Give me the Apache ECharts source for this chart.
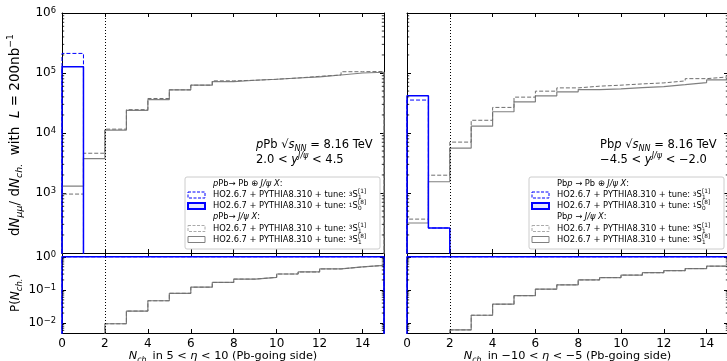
<!DOCTYPE html>
<html>
<head>
<meta charset="utf-8">
<script src="https://cdn.jsdelivr.net/npm/echarts@6/dist/echarts.min.js"></script>
<style>
html, body { margin: 0; padding: 0; background: #fff; }
#chart { width: 727px; height: 361px; }
</style>
</head>
<body>
<div id="chart"></div>
<script>
// ---- data -------------------------------------------------------------
// N_ch. bin edges (15 unit-wide bins)
const nchEdges = [0, 1, 2, 3, 4, 5, 6, 7, 8, 9, 10, 11, 12, 13, 14, 15];

// pPb, 5 < eta < 10 : dN_mumu / dN_ch. per bin
const pPbExcl_3S1_1 = [212000, 0, 0, 0, 0, 0, 0, 0, 0, 0, 0, 0, 0, 0, 0];
const pPbExcl_1S0_8 = [127000, 0, 0, 0, 0, 0, 0, 0, 0, 0, 0, 0, 0, 0, 0];
const pPbIncl_3S1_1 = [960, 4600, 11600, 24500, 37600, 52400, 62700, 74000, 75700, 78700, 82600, 88000, 92700, 105000, 106000];
const pPbIncl_3S1_8 = [1300, 3750, 11200, 23800, 36000, 52400, 62700, 72000, 75700, 78700, 82600, 86000, 92700, 100000, 103000];
// pPb : P(N_ch.)
const pPbProbExcl = [1, 1, 1, 1, 1, 1, 1, 1, 1, 1, 1, 1, 1, 1, 1];
const pPbProbIncl = [0, 0, 0.0095, 0.023, 0.047, 0.079, 0.121, 0.168, 0.212, 0.239, 0.302, 0.348, 0.43, 0.494, 0.55];

// Pbp, -10 < eta < -5 : dN_mumu / dN_ch. per bin
const PbpExcl_3S1_1 = [35400, 261, 0, 0, 0, 0, 0, 0, 0, 0, 0, 0, 0, 0, 0];
const PbpExcl_1S0_8 = [41700, 261, 0, 0, 0, 0, 0, 0, 0, 0, 0, 0, 0, 0, 0];
const PbpIncl_3S1_1 = [367, 1980, 7050, 16300, 26700, 39600, 49800, 56500, 60300, 62700, 65800, 68400, 73800, 80500, 86000];
const PbpIncl_3S1_8 = [316, 1540, 5600, 13000, 22600, 33100, 41700, 48500, 53000, 54400, 57200, 59400, 64100, 69200, 76600];
// Pbp : P(N_ch.)
const PbpProbExcl = [1, 1, 1, 1, 1, 1, 1, 1, 1, 1, 1, 1, 1, 1, 1];
const PbpProbIncl = [0, 0, 0.0062, 0.0172, 0.037, 0.067, 0.105, 0.142, 0.2, 0.235, 0.28, 0.33, 0.38, 0.44, 0.52];

// vertical guide at N_ch. = 2
const nchCut = 2;

// ---- styling ------------------------------------------------------------
const FONT = 'DejaVu Sans';
const BLUE = '#0000ff';
const GREY = '#808080';
const GREY_D = '#6e6e6e';
const EMPTY = 1e-6;   // empty bins fall below every axis floor and get clipped

const styles = {
  exclDash: { color: BLUE, width: 1, type: [4, 2] },
  exclSolid: { color: BLUE, width: 1.5, type: 'solid' },
  inclDash: { color: GREY_D, width: 1, type: [4, 2] },
  inclSolid: { color: GREY, width: 1.2, type: 'solid' }
};

function makeRich(size) {
  const s = +(size * 0.7).toFixed(1);
  return {
    i: { fontStyle: 'italic', fontFamily: FONT, fontSize: size, color: '#000', lineHeight: size + 4 },
    isub: { fontStyle: 'italic', fontFamily: FONT, fontSize: s, color: '#000', verticalAlign: 'bottom', lineHeight: s + 1 },
    sub: { fontFamily: FONT, fontSize: s, color: '#000', verticalAlign: 'bottom', lineHeight: s + 1 },
    sup: { fontFamily: FONT, fontSize: s, color: '#000', verticalAlign: 'top', lineHeight: s + 1 },
    isup: { fontStyle: 'italic', fontFamily: FONT, fontSize: s, color: '#000', verticalAlign: 'top', lineHeight: s + 1 }
  };
}
const RICH = makeRich(12);

// histogram outline: rises from the floor at the first edge, steps across each bin, drops at the last edge
function stepPoints(vals) {
  const floorOr = v => (v > 0 ? v : EMPTY);
  const pts = [[nchEdges[0], EMPTY]];
  vals.forEach((v, k) => pts.push([nchEdges[k], floorOr(v)]));
  pts.push([nchEdges[vals.length], floorOr(vals[vals.length - 1])]);
  pts.push([nchEdges[vals.length], EMPTY]);
  return pts;
}

function hist(name, vals, grid, style, z) {
  return {
    type: 'line', name, data: stepPoints(vals), step: 'end',
    xAxisIndex: grid * 2, yAxisIndex: grid * 2,
    symbol: 'none', clip: true, silent: true, z: z || 2,
    lineStyle: style
  };
}

function cutLine(grid) {
  return {
    type: 'line', data: [], xAxisIndex: grid * 2, yAxisIndex: grid * 2, silent: true, z: 1,
    markLine: {
      silent: true, symbol: 'none', label: { show: false },
      lineStyle: { color: '#000', width: 1, type: [1, 2] },
      data: [{ xAxis: nchCut }]
    }
  };
}

// minor ticks of a log axis (2..9 x 10^k), drawn inward on both vertical spines
function logMinorTicks(lo, hi) {
  const out = [];
  for (let e = Math.floor(Math.log10(lo)); e <= Math.ceil(Math.log10(hi)); e++) {
    for (let k = 2; k <= 9; k++) {
      const v = k * Math.pow(10, e);
      if (v > lo && v < hi) out.push([0, v]);
    }
  }
  return out;
}
function minorTickSeries(grid, lo, hi) {
  return {
    type: 'custom', xAxisIndex: grid * 2, yAxisIndex: grid * 2, silent: true, z: 30, clip: false,
    data: logMinorTicks(lo, hi),
    renderItem(params, api) {
      const a = api.coord([nchEdges[0], api.value(1)]);
      const b = api.coord([nchEdges[nchEdges.length - 1], api.value(1)]);
      const st = { stroke: '#000', lineWidth: 0.8 };
      return { type: 'group', children: [
        { type: 'line', shape: { x1: a[0], y1: a[1], x2: a[0] + 2.2, y2: a[1] }, style: st },
        { type: 'line', shape: { x1: b[0] - 2.2, y1: b[1], x2: b[0], y2: b[1] }, style: st }
      ] };
    }
  };
}

function logLabel(v) {
  const e = Math.round(Math.log10(v));
  return '10{sup|' + (e < 0 ? '\u2212' + (-e) : e) + '}';
}

const axisLine = { show: true, onZero: false, lineStyle: { color: '#000', width: 1 } };
const axisTick = { show: true, inside: true, length: 4, lineStyle: { color: '#000', width: 1 } };
const labelText = { color: '#000', fontSize: 12, fontFamily: FONT };
const XT = 11.3;

function xAxes(grid, withLabels, name) {
  const base = { type: 'value', gridIndex: grid, min: 0, max: 15, interval: 2, axisLine, axisTick, splitLine: { show: false }, minorTick: { show: false } };
  return [
    Object.assign({}, base, {
      position: 'bottom',
      axisLabel: Object.assign({ show: withLabels, margin: 5, showMaxLabel: false }, labelText),
      name: name || '', nameLocation: 'middle', nameGap: 11,
      nameTextStyle: { color: '#000', fontSize: XT, fontFamily: FONT, rich: makeRich(XT) }
    }),
    Object.assign({}, base, { position: 'top', axisLabel: { show: false } })
  ];
}

function yAxes(grid, min, max, withLabels, name) {
  const base = { type: 'log', logBase: 10, gridIndex: grid, min, max, axisLine, axisTick, minorTick: { show: false }, splitLine: { show: false } };
  return [
    Object.assign({}, base, {
      position: 'left',
      axisLabel: Object.assign({ show: withLabels, margin: 6, showMinLabel: false, showMaxLabel: max > 2e5, formatter: logLabel, rich: RICH }, labelText),
      name: name || '', nameLocation: 'middle', nameGap: 38, nameRotate: 90,
      nameTextStyle: { color: '#000', fontSize: 12, fontFamily: FONT, rich: RICH }
    }),
    Object.assign({}, base, { position: 'right', axisLabel: { show: false } })
  ];
}

// ---- layout -------------------------------------------------------------
const L = { left: 62, width: 322 }, R = { left: 407, width: 321 };
const TOP = { top: 13, height: 240 }, LOW = { top: 253, height: 80 };
const grids = [
  Object.assign({}, L, TOP), Object.assign({}, L, LOW),
  Object.assign({}, R, TOP), Object.assign({}, R, LOW)
].map(g => Object.assign(g, { outerBoundsMode: 'none', containLabel: false }));

const yTopRange = [100, 1e6];
const yLowRange = [0.005, 1.3];

const xAxis = [].concat(
  xAxes(0, false),
  xAxes(1, true, '{i|N}{isub|ch.} in 5 < {i|η} < 10 (Pb-going side)'),
  xAxes(2, false),
  xAxes(3, true, '{i|N}{isub|ch.} in \u221210 < {i|η} < \u22125 (Pb-going side)')
);
const yAxis = [].concat(
  yAxes(0, yTopRange[0], yTopRange[1], true),
  yAxes(1, yLowRange[0], yLowRange[1], true, 'P({i|N}{isub|ch.})'),
  yAxes(2, yTopRange[0], yTopRange[1], false),
  yAxes(3, yLowRange[0], yLowRange[1], false)
);

const series = [
  cutLine(0), cutLine(1), cutLine(2), cutLine(3),
  hist('pPb incl 3S1[1]', pPbIncl_3S1_1, 0, styles.inclDash, 3),
  hist('pPb incl 3S1[8]', pPbIncl_3S1_8, 0, styles.inclSolid, 2),
  hist('pPb excl 3S1[1]', pPbExcl_3S1_1, 0, styles.exclDash, 5),
  hist('pPb excl 1S0[8]', pPbExcl_1S0_8, 0, styles.exclSolid, 4),
  hist('pPb P incl 3S1[1]', pPbProbIncl, 1, styles.inclDash, 3),
  hist('pPb P incl 3S1[8]', pPbProbIncl, 1, styles.inclSolid, 2),
  hist('pPb P excl 3S1[1]', pPbProbExcl, 1, styles.exclDash, 5),
  hist('pPb P excl 1S0[8]', pPbProbExcl, 1, styles.exclSolid, 4),
  hist('Pbp incl 3S1[1]', PbpIncl_3S1_1, 2, styles.inclDash, 3),
  hist('Pbp incl 3S1[8]', PbpIncl_3S1_8, 2, styles.inclSolid, 2),
  hist('Pbp excl 3S1[1]', PbpExcl_3S1_1, 2, styles.exclDash, 5),
  hist('Pbp excl 1S0[8]', PbpExcl_1S0_8, 2, styles.exclSolid, 4),
  hist('Pbp P incl 3S1[1]', PbpProbIncl, 3, styles.inclDash, 3),
  hist('Pbp P incl 3S1[8]', PbpProbIncl, 3, styles.inclSolid, 2),
  hist('Pbp P excl 3S1[1]', PbpProbExcl, 3, styles.exclDash, 5),
  hist('Pbp P excl 1S0[8]', PbpProbExcl, 3, styles.exclSolid, 4),
  minorTickSeries(0, yTopRange[0], yTopRange[1]),
  minorTickSeries(1, yLowRange[0], yLowRange[1]),
  minorTickSeries(2, yTopRange[0], yTopRange[1]),
  minorTickSeries(3, yLowRange[0], yLowRange[1])
];

// ---- annotations and legends -----------------------------------------------
const measureCtx = document.createElement('canvas').getContext('2d');
function textWidth(str, size) {
  measureCtx.font = size + 'px "' + FONT + '"';
  return measureCtx.measureText(str).width;
}

const AF = 11.5;
const ARICH = makeRich(AF);
function richText(x, y, text, size, rich, rotation) {
  return {
    type: 'text', x, y, rotation: rotation || 0, silent: true, z: 20,
    style: { text, fontSize: size, fontFamily: FONT, fill: '#000', verticalAlign: 'middle', align: rotation ? 'center' : 'left', rich }
  };
}

const LF = 8.3, LS = 5.8;   // legend font and script sizes
const LRICH = {
  i: { fontStyle: 'italic', fontFamily: FONT, fontSize: LF, color: '#000' },
  sup: { fontFamily: FONT, fontSize: LS, color: '#000', verticalAlign: 'top', lineHeight: 6 }
};
const tunePrefix = 'HO2.6.7 + PYTHIA8.310 + tune: ';

function tuneLabel(x, y, pre, sub, sup) {
  const w = textWidth(tunePrefix, LF) + textWidth(pre, LS) + textWidth('S', LF);
  const t = (xx, yy, text, size) => ({ type: 'text', x: xx, y: yy, silent: true, z: 21,
    style: { text, fontSize: size, fontFamily: FONT, fill: '#000', verticalAlign: 'middle', align: 'left', rich: LRICH } });
  return [
    t(x, y, tunePrefix + '{sup|' + pre + '}S', LF),
    t(x + w + 0.3, y + 2.9, sub, LS),
    t(x + w + 0.3, y - 3.1, sup, LS)
  ];
}

function patch(x, y, style) {
  return { type: 'rect', silent: true, z: 21,
    shape: { x, y: y - 3, width: 17, height: 6 },
    style: { fill: style.fill || '#fff', stroke: style.color, lineWidth: style.width, lineDash: style.dash || null } };
}

function legend(x0, x1, headers) {
  const top = 177, rows = [183.5, 195, 206, 217, 228.5, 239.5];
  const px = x0 + 3, tx = x0 + 28;
  const els = [{ type: 'rect', silent: true, z: 20,
    shape: { x: x0, y: top, width: x1 - x0, height: 72, r: 2 },
    style: { fill: 'rgba(255,255,255,0.85)', stroke: '#cccccc', lineWidth: 1 } }];
  els.push({ type: 'text', x: tx, y: rows[0], silent: true, z: 21,
    style: { text: headers[0], fontSize: LF, fontFamily: FONT, fill: '#000', verticalAlign: 'middle', rich: LRICH } });
  els.push({ type: 'text', x: tx, y: rows[3], silent: true, z: 21,
    style: { text: headers[1], fontSize: LF, fontFamily: FONT, fill: '#000', verticalAlign: 'middle', rich: LRICH } });
  els.push(patch(px, rows[1], { color: BLUE, width: 1, dash: [3, 1.5] }));
  els.push(patch(px, rows[2], { color: BLUE, width: 2, fill: '#e6e6ff' }));
  els.push(patch(px, rows[4], { color: '#aaaaaa', width: 1, dash: [3, 1.5] }));
  els.push(patch(px, rows[5], { color: GREY, width: 1 }));
  return els.concat(
    tuneLabel(tx, rows[1], '3', '1', '[1]'),
    tuneLabel(tx, rows[2], '1', '0', '[8]'),
    tuneLabel(tx, rows[4], '3', '1', '[1]'),
    tuneLabel(tx, rows[5], '3', '1', '[8]')
  );
}

const YF = 13.5;
const graphic = [
  richText(15, 135, 'd{i|N}{isub|μμ}/ d{i|N}{isub|ch.}  with  {i|L} = 200nb{sup|\u22121}', YF, makeRich(YF), Math.PI / 2),
  richText(256, 145, '{i|p}Pb √{i|s}{isub|NN} = 8.16 TeV', AF, ARICH),
  richText(256, 160, '2.0 < {i|y}{isup|J/ψ} < 4.5', AF, ARICH),
  richText(600, 145, 'Pb{i|p} √{i|s}{isub|NN} = 8.16 TeV', AF, ARICH),
  richText(600, 160, '\u22124.5 < {i|y}{isup|J/ψ} < \u22122.0', AF, ARICH)
].concat(
  legend(185, 380, ['{i|p}Pb\u2192 Pb ⊕ {i|J/ψ X}:', '{i|p}Pb\u2192 {i|J/ψ X}:']),
  legend(529, 724, ['Pb{i|p} \u2192 Pb ⊕ {i|J/ψ X}:', 'Pb{i|p} \u2192 {i|J/ψ X}:'])
);

const chart = echarts.init(document.getElementById('chart'), null, { renderer: 'canvas' });
chart.setOption({
  animation: false,
  backgroundColor: '#fff',
  textStyle: { fontFamily: FONT },
  grid: grids,
  xAxis,
  yAxis,
  series,
  graphic
});
</script>
</body>
</html>
